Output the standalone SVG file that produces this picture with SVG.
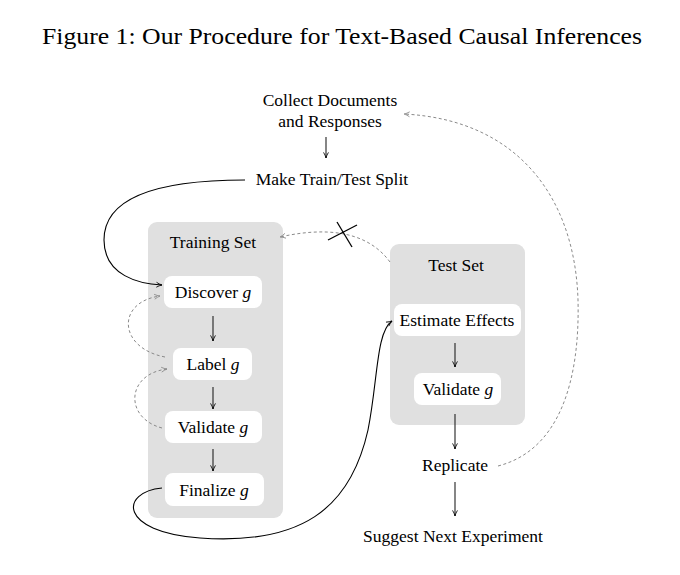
<svg xmlns="http://www.w3.org/2000/svg" width="680" height="575" viewBox="0 0 680 575">
<style>
  text { font-family: "Liberation Serif", "Times New Roman", serif; font-size: 17.5px; fill: #000; text-anchor: middle; }
  .title { font-size: 23px; text-anchor: start; }
  .panel { fill: #e0e0e0; }
  .box { fill: #fff; }
  .arr { stroke: #222; stroke-width: 1.1; fill: none; marker-end: url(#ah); }
  .solid { stroke: #000; stroke-width: 1.1; fill: none; marker-end: url(#ah); }
  .dash { stroke: #8a8a8a; stroke-width: 1; stroke-dasharray: 3 2.5; fill: none; marker-end: url(#ahg); }
</style>
<defs>
  <marker id="ah" viewBox="0 0 10 10" refX="9" refY="5" markerWidth="7" markerHeight="7" markerUnits="userSpaceOnUse" orient="auto">
    <path d="M1,1.5 Q5,4 9,5 Q5,6 1,8.5" fill="none" stroke="#000" stroke-width="1.2"/>
  </marker>
  <marker id="ahg" viewBox="0 0 10 10" refX="9" refY="5" markerWidth="7" markerHeight="7" markerUnits="userSpaceOnUse" orient="auto">
    <path d="M1,1.5 Q5,4 9,5 Q5,6 1,8.5" fill="none" stroke="#8a8a8a" stroke-width="1.2"/>
  </marker>
</defs>
<rect width="680" height="575" fill="#fff"/>
<text class="title" x="42" y="44" textLength="600" lengthAdjust="spacingAndGlyphs">Figure 1: Our Procedure for Text-Based Causal Inferences</text>

<g id="training-set">
  <rect class="panel" x="148" y="222" width="135" height="296" rx="9"/>
  <text x="213" y="248">Training Set</text>
</g>
<g id="test-set">
  <rect class="panel" x="390" y="244" width="135" height="181" rx="9"/>
  <text x="456" y="271">Test Set</text>
</g>

<g id="collect">
  <text x="330" y="106">Collect Documents</text>
  <text x="330" y="127">and Responses</text>
</g>
<g id="split">
  <text x="332" y="185">Make Train/Test Split</text>
</g>
<g id="discover">
  <rect class="box" x="164" y="276" width="98" height="32" rx="8"/>
  <text x="213" y="298">Discover <tspan font-style="italic">g</tspan></text>
</g>
<g id="label">
  <rect class="box" x="173" y="348" width="79" height="32" rx="8"/>
  <text x="213" y="370">Label <tspan font-style="italic">g</tspan></text>
</g>
<g id="validate-train">
  <rect class="box" x="165" y="411" width="97" height="32" rx="8"/>
  <text x="213" y="433">Validate <tspan font-style="italic">g</tspan></text>
</g>
<g id="finalize">
  <rect class="box" x="165" y="473" width="99" height="33" rx="8"/>
  <text x="214" y="496">Finalize <tspan font-style="italic">g</tspan></text>
</g>
<g id="estimate">
  <rect class="box" x="394" y="304" width="127" height="32" rx="8"/>
  <text x="457" y="326">Estimate Effects</text>
</g>
<g id="validate-test">
  <rect class="box" x="414" y="373" width="87" height="32" rx="8"/>
  <text x="458" y="395">Validate <tspan font-style="italic">g</tspan></text>
</g>
<g id="replicate">
  <text x="455" y="471">Replicate</text>
</g>
<g id="suggest">
  <text x="453" y="542">Suggest Next Experiment</text>
</g>

<g id="connectors">
  <line class="arr" x1="326" y1="137" x2="326" y2="158"/>
  <line class="arr" x1="213" y1="316" x2="213" y2="341"/>
  <line class="arr" x1="213" y1="387" x2="213" y2="409"/>
  <line class="arr" x1="213" y1="449" x2="213" y2="471"/>
  <line class="arr" x1="455" y1="343" x2="455" y2="367"/>
  <line class="arr" x1="455" y1="414" x2="455" y2="449"/>
  <line class="arr" x1="455" y1="482" x2="455" y2="516"/>
  <path class="solid" d="M245,180 C150,180 104,200 104,240 C104,276 140,284 162,285"/>
  <path class="solid" d="M162,488 C120,492 118,532 200,538 C300,545 350,510 368,430 C378,380 376,332 392,321"/>
  <path class="dash" d="M390,262 C365,228 320,228 280,237"/>
  <path class="dash" d="M165,357 C118,348 116,302 160,296"/>
  <path class="dash" d="M162,428 C124,418 126,374 167,369"/>
  <path class="dash" d="M498,466 C560,450 580,380 578,300 C575,200 520,120 404,114"/>
  <line x1="328" y1="240" x2="357" y2="225" stroke="#000" stroke-width="1.3"/>
  <line x1="337" y1="222" x2="352" y2="247" stroke="#000" stroke-width="1.3"/>
</g>
</svg>
